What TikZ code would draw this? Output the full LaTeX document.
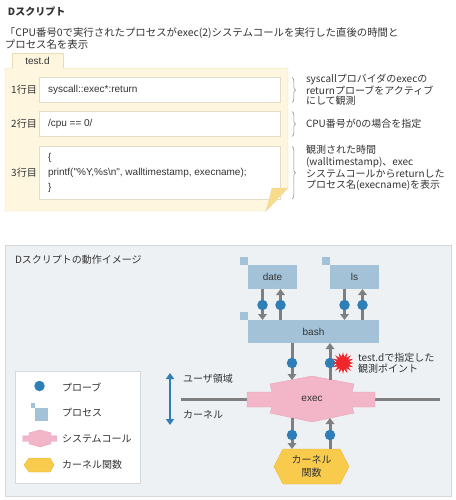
\documentclass[tikz,border=0pt]{standalone}
\usepackage{fontspec}
\setmainfont{Noto Sans CJK JP}
\newfontfamily\latfont{Liberation Sans}
\usetikzlibrary{shapes.geometric,decorations.pathreplacing,arrows.meta}
\definecolor{textc}{HTML}{333333}
\definecolor{cream}{HTML}{FEF6DF}
\definecolor{creamline}{HTML}{E8DDB3}
\definecolor{flapc}{HTML}{F8DC8C}
\definecolor{rowline}{HTML}{E2DCC8}
\definecolor{panelc}{HTML}{EDF1F4}
\definecolor{panelline}{HTML}{D5D9DC}
\definecolor{procc}{HTML}{A4C2D7}
\definecolor{probec}{HTML}{2F7EB6}
\definecolor{grayc}{HTML}{7F7F7F}
\definecolor{pinkc}{HTML}{F2B6C8}
\definecolor{pinkline}{HTML}{E8A6B9}
\definecolor{kernc}{HTML}{F8CB4D}
\definecolor{kernline}{HTML}{EAB83A}
\definecolor{starc}{HTML}{F0262A}
\definecolor{bracec}{HTML}{888888}
\tikzset{
  txt/.style={font=\fontsize{10}{12}\selectfont, text=textc},
  lat/.style={font=\latfont\fontsize{10}{12}\selectfont, text=textc},
  rowbox/.style={draw=rowline, fill=white, anchor=north west, minimum width=241pt},
  proc/.style={fill=procc, anchor=north west, lat},
  probe/.style={circle, fill=probec, minimum size=10.5pt},
  garrow/.style={draw=grayc, line width=3pt, -{Triangle[length=6pt,width=8.5pt]}},
  bracedeco/.style={draw=bracec, line width=0.5pt, decorate, decoration={brace,amplitude=3.5pt}},
  syscallshape/.style={fill=pinkc, draw=pinkline, line width=0.4pt},
}
\begin{document}
\begin{tikzpicture}[x=1pt,y=-1pt, every node/.style={inner sep=0pt, outer sep=0pt}]
\useasboundingbox (0,0) rectangle (455,500);

% ---- header
\node[txt, font=\bfseries\fontsize{10}{12}\selectfont, anchor=west] (title) at (8,12) {Dスクリプト};
\node[txt, anchor=west, align=left, font=\fontsize{10.4}{10.3}\selectfont] (sub) at (5,38.6) {「CPU番号0で実行されたプロセスがexec(2)システムコールを実行した直後の時間と\\プロセス名を表示};

% ---- yellow sheet
\draw[fill=cream, draw=creamline] (5,68) -- (288,68) -- (288,188) -- (266,211) -- (5,211) -- cycle;
\fill[cream] (12.5,53.5) rectangle (62.5,68.6);
\draw[creamline] (12,68) -- (12,53) -- (63,53) -- (63,68);
\node[lat] (tab) at (37.5,61) {test.d};

\node[rowbox, minimum height=25pt] (r1) at (39,77) {};
\node[rowbox, minimum height=25pt] (r2) at (39,111) {};
\node[rowbox, minimum height=53pt] (r3) at (39,146) {};
\fill[flapc] (272,188) -- (288,188) -- (266,211) -- cycle;
\draw[creamline] (272,188) -- (288,188) -- (266,211) -- cycle;

\coordinate (lx) at (24,0);
\node[txt] (l1) at (lx |- r1.center) {1行目};
\node[txt] (l2) at (lx |- r2.center) {2行目};
\node[txt] (l3) at (lx |- r3.center) {3行目};
\node[lat, anchor=west] (c1) at ([xshift=9pt]r1.west) {syscall::exec*:return};
\node[lat, anchor=west] (c2) at ([xshift=9pt]r2.west) {/cpu == 0/};
\node[lat, anchor=west, align=left, font=\latfont\fontsize{10}{15}\selectfont] (c3) at ([xshift=9pt]r3.west) {\{\\printf("\%Y,\%s\textbackslash n", walltimestamp, execname);\\\}};

% braces and descriptions
\draw[bracedeco] (292,77.5) -- (292,102.5);
\draw[bracedeco] (292,111.5) -- (292,136.5);
\draw[bracedeco] (292,146.5) -- (292,199);
\node[txt, anchor=west, align=left, font=\fontsize{10}{9.8}\selectfont] (d1) at (306,89.7) {syscallプロバイダのexecの\\returnプローブをアクティブ\\にして観測};
\node[txt, anchor=west] (d2) at (306,124) {CPU番号が0の場合を指定};
\node[txt, anchor=west, align=left, font=\fontsize{10}{11.7}\selectfont] (d3) at (306,168) {観測された時間\\(walltimestamp)、exec\\システムコールからreturnした\\プロセス名(execname)を表示};

% ---- lower panel
\draw[fill=panelc, draw=panelline, line width=0.8pt] (5,245) rectangle (451,496);
\node[txt, anchor=west] (ptitle) at (15,260) {Dスクリプトの動作イメージ};

% horizontal boundary line
\coordinate (hl) at (181,399);
\coordinate (hr) at (440,399);
\draw[grayc, line width=3pt] (hl) -- (hr);

% processes
\fill[procc] (240,257) rectangle (248,265);
\node[proc, minimum width=49pt, minimum height=24pt] (date) at (248,265) {date};
\fill[procc] (322,257) rectangle (330,265);
\node[proc, minimum width=49pt, minimum height=24pt] (ls) at (330,265) {ls};
\fill[procc] (240,312) rectangle (248,320);
\node[proc, minimum width=131pt, minimum height=23pt] (bash) at (248,320) {bash};

% exec system call
\begin{scope}[shift={(312,399)}]
\draw[syscallshape] (0,-23) -- (-42,-15) -- (-40,-7) -- (-65,-7) -- (-65,8) -- (-40,8) -- (-42,14) -- (0,23) -- (42,14) -- (40,8) -- (63,8) -- (63,-7) -- (40,-7) -- (42,-15) -- cycle;
\end{scope}
\node[lat] (exec) at (312,399) {exec};
\coordinate (et1) at (292,380);
\coordinate (et2) at (330,380);
\coordinate (eb1) at (292,418);
\coordinate (eb2) at (330,418);

% kernel function
\draw[fill=kernc, draw=kernline, line width=0.4pt] (274,466.5) -- (283,449) -- (340,449) -- (349,466.5) -- (340,484) -- (283,484) -- cycle;
\node[txt, align=center, font=\fontsize{10}{13}\selectfont] (kern) at (311.5,466.5) {カーネル\\関数};
\coordinate (kt1) at (292,449);
\coordinate (kt2) at (330,449);

% arrows date/ls <-> bash
\draw[garrow] ([xshift=-10pt]date.south) -- ([xshift=-10pt]date.south |- bash.north);
\draw[garrow] ([xshift=8pt]date.south |- bash.north) -- ([xshift=8pt]date.south);
\draw[garrow] ([xshift=-10pt]ls.south) -- ([xshift=-10pt]ls.south |- bash.north);
\draw[garrow] ([xshift=8pt]ls.south |- bash.north) -- ([xshift=8pt]ls.south);
% bash <-> exec
\draw[garrow] (et1 |- bash.south) -- (et1);
\draw[garrow] (et2) -- (et2 |- bash.south);
% exec <-> kernel
\draw[garrow] (eb1) -- (kt1);
\draw[garrow] (kt2) -- (eb2);

% probes
\node[probe] (p1) at (262.5,305) {};
\node[probe] (p2) at (280.5,305) {};
\node[probe] (p3) at (344.5,305) {};
\node[probe] (p4) at (362.5,305) {};
\node[probe] (p5) at (292,363) {};
\node[probe] (p6) at (330,363) {};
\node[probe] (p7) at (292,435) {};
\node[probe] (p8) at (330,435) {};

% observation point star
\node[star, star points=16, star point ratio=1.8, fill=starc, minimum size=22pt] (star) at (343,363) {};
\node[txt, anchor=west, align=left, font=\fontsize{10}{10.5}\selectfont] (obs) at (358,363) {test.dで指定した\\観測ポイント};

% user / kernel arrow
\coordinate (ua) at (170,373);
\coordinate (ka) at (170,425);
\draw[probec, line width=2.5pt, {Triangle[length=6pt,width=8pt]}-{Triangle[length=6pt,width=8pt]}] (ua) -- (ka);
\node[txt, anchor=west] (user) at (183,379) {ユーザ領域};
\node[txt, anchor=west] (kernel) at (183,415) {カーネル};

% legend
\node[draw=panelline, fill=white, line width=0.8pt, anchor=north west, minimum width=125pt, minimum height=112pt] (legend) at (15,371) {};
\node[probe] (lgp) at (39.5,386) {};
\node[txt, anchor=west] (lgpt) at (62,387) {プローブ};
\fill[procc] (30.5,403) rectangle (35,407.5);
\node[fill=procc, minimum size=13pt] (lgs) at (41.5,414) {};
\node[txt, anchor=west] (lgst) at (62,413) {プロセス};
\begin{scope}[shift={(40,438.5)}, xscale=0.265, yscale=0.37]
\draw[syscallshape] (0,-23) -- (-42,-15) -- (-40,-7) -- (-65,-7) -- (-65,8) -- (-40,8) -- (-42,14) -- (0,23) -- (42,14) -- (40,8) -- (63,8) -- (63,-7) -- (40,-7) -- (42,-15) -- cycle;
\end{scope}
\coordinate (lgc) at (40,438.5);
\node[txt, anchor=west] (lgct) at (62,439) {システムコール};
\draw[fill=kernc, draw=kernline, line width=0.4pt] (24,465) -- (29,458) -- (50,458) -- (54,465) -- (50,472) -- (29,472) -- cycle;
\coordinate (lgk) at (39,465);
\node[txt, anchor=west] (lgkt) at (62,465) {カーネル関数};
\end{tikzpicture}
\end{document}
